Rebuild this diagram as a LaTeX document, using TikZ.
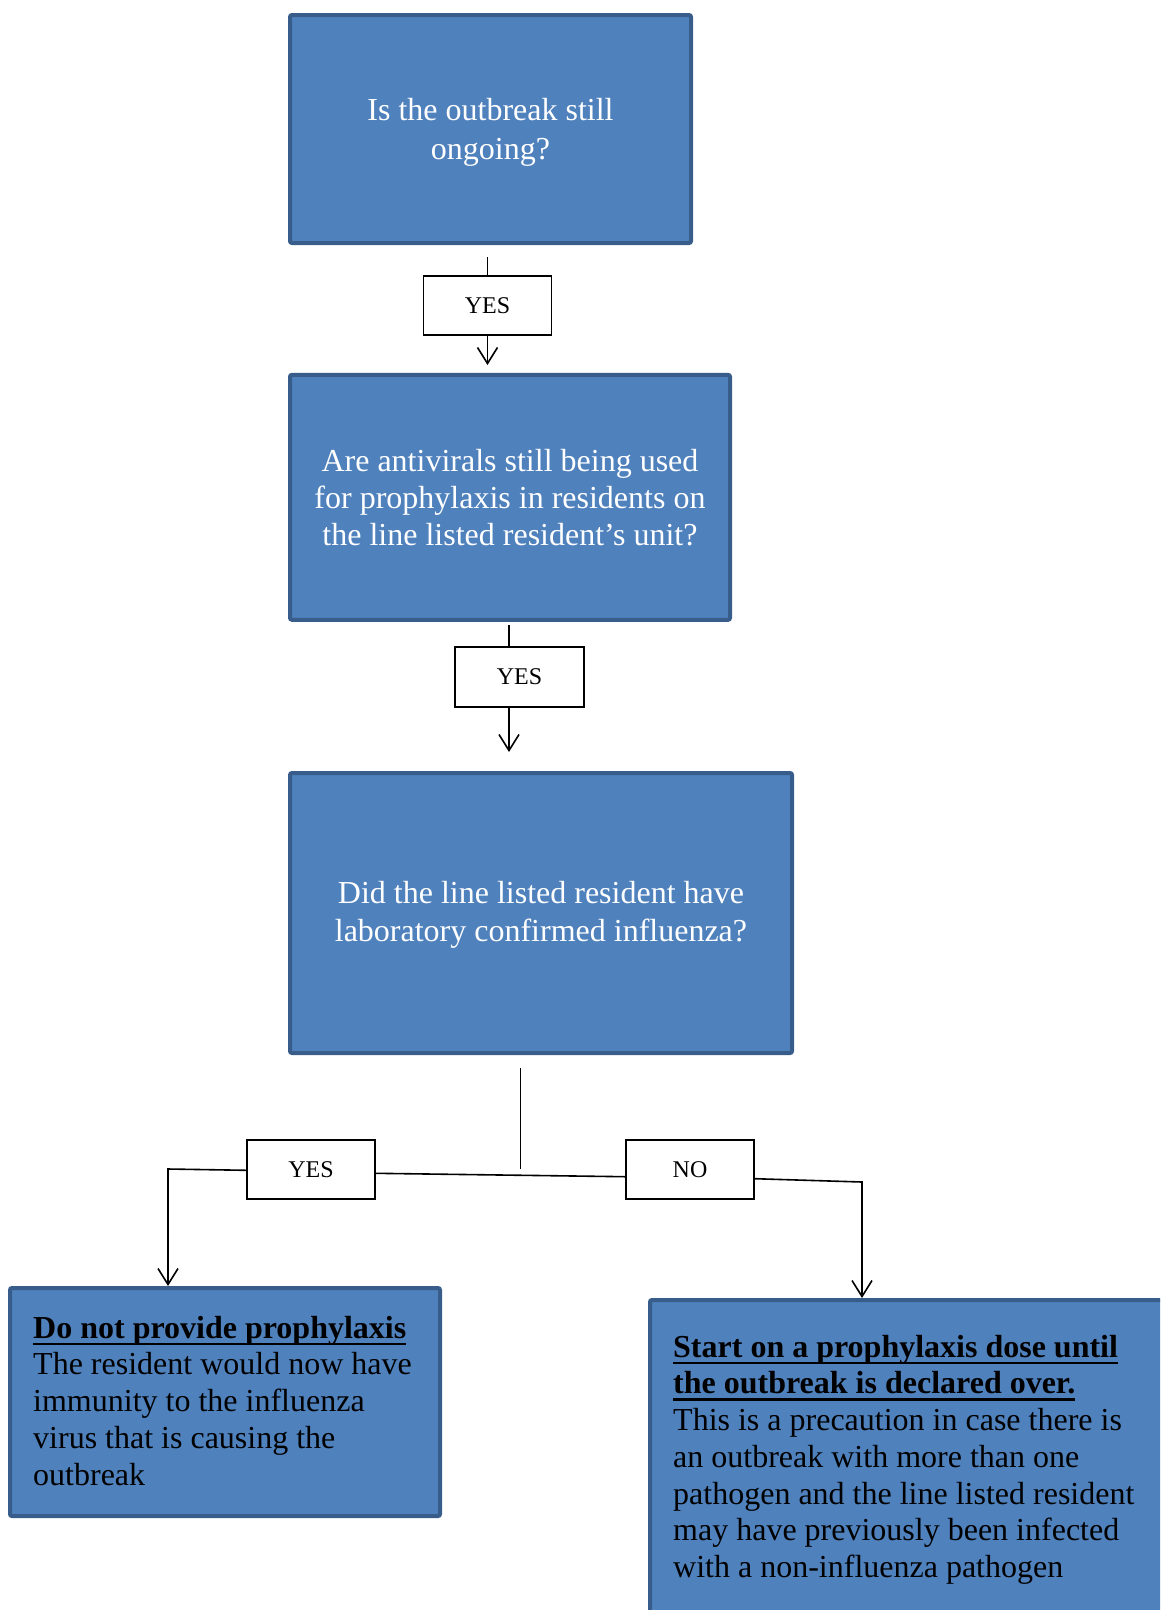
\documentclass[tikz,border=0pt]{standalone}
\usepackage{fontspec}
\setmainfont{Liberation Serif}
\usetikzlibrary{arrows.meta,calc}
\definecolor{boxfill}{HTML}{4F81BD}
\definecolor{boxline}{HTML}{385D8A}
\newcommand\myul[1]{\setbox0\hbox{#1}\rlap{\rule[-7pt]{\wd0}{2.5pt}}\box0}
\begin{document}
\begin{tikzpicture}[x=1pt,y=-1pt,
  qbox/.style={draw=boxline, fill=boxfill, line width=4pt, rounded corners=2pt, text=white, align=center, font=\fontsize{32pt}{37pt}\selectfont, inner sep=0pt},
  ansbox/.style={draw=black, fill=white, line width=1.8pt, font=\fontsize{24pt}{28pt}\selectfont, minimum width=128pt, minimum height=59pt, inner sep=0pt},
  endbox/.style={draw=boxline, fill=boxfill, line width=4pt, rounded corners=2pt, inner sep=0pt},
  body/.style={align=left, anchor=north west, inner sep=0pt, text=black, font=\fontsize{32pt}{36.7pt}\selectfont},
  conn/.style={line width=1.6pt, draw=black},
  arr/.style={conn, -{Straight Barb[length=16pt,width=20pt,line width=1.6pt]}}
]
\useasboundingbox (0,0) rectangle (1160,1610);
\clip (0,0) rectangle (1160,1610);

\node[qbox, minimum width=401pt, minimum height=228pt, font=\fontsize{32pt}{39pt}\selectfont] (b1) at (490.5,129) {\rule{0pt}{28pt}Is the outbreak still\\ongoing?};
\node[ansbox] (y1) at (487.5,305.3) {YES};
\node[qbox, minimum width=440pt, minimum height=245pt] (b2) at (510,497.3) {Are antivirals still being used\\for prophylaxis in residents on\\the line listed resident’s unit?};
\node[ansbox, minimum width=129pt, minimum height=60pt] (y2) at (519.5,676.7) {YES};
\node[qbox, minimum width=502pt, minimum height=280pt, font=\fontsize{32pt}{38pt}\selectfont] (b3) at (541,913) {\rule{0pt}{26pt}Did the line listed resident have\\laboratory confirmed influenza?};
\node[ansbox] (y3) at (311,1169.3) {YES};
\node[ansbox] (n3) at (690,1169.7) {NO};

\node[endbox, minimum width=430pt, minimum height=228pt] (b4) at (225,1402) {};
\node[body] (t4) at (33,1314) {\rule{0pt}{24pt}\textbf{\myul{Do not provide prophylaxis}}\\The resident would now have\\immunity to the influenza\\virus that is causing the\\outbreak};

\node[endbox, minimum width=560pt, minimum height=340pt] (b5) at (930,1470) {};
\node[body] (t5) at (673,1333) {\rule{0pt}{24pt}\textbf{\myul{Start on a prophylaxis dose until}}\\\textbf{\myul{the outbreak is declared over.}}\\This is a precaution in case there is\\an outbreak with more than one\\pathogen and the line listed resident\\may have previously been infected\\with a non-influenza pathogen};

\coordinate (c1) at (487.5,257);
\coordinate (a1) at (488.5,365);
\draw[conn] (c1) -- (y1.north);
\draw[arr] (y1.south) -- (y1.south |- a1);

\coordinate (c2) at (509,625);
\coordinate (a2) at (509,752);
\draw[conn] (c2) -- (c2 |- y2.north);
\draw[arr] (c2 |- y2.south) -- (a2);

\coordinate (s1) at (520.5,1068);
\coordinate (s2) at (520.5,1169);
\draw[conn] (s1) -- (s2);
\draw[conn] ([yshift=-4pt]y3.east) -- ([yshift=-7pt]n3.west);

\coordinate (l1) at (168,1169);
\coordinate (l2) at (168,1286);
\draw[arr] ([yshift=-1pt]y3.west) -- (l1) -- (l2);
\coordinate (r1) at (862,1182);
\coordinate (r2) at (862,1298);
\draw[arr] ([yshift=-9pt]n3.east) -- (r1) -- (r2);
\end{tikzpicture}
\end{document}
